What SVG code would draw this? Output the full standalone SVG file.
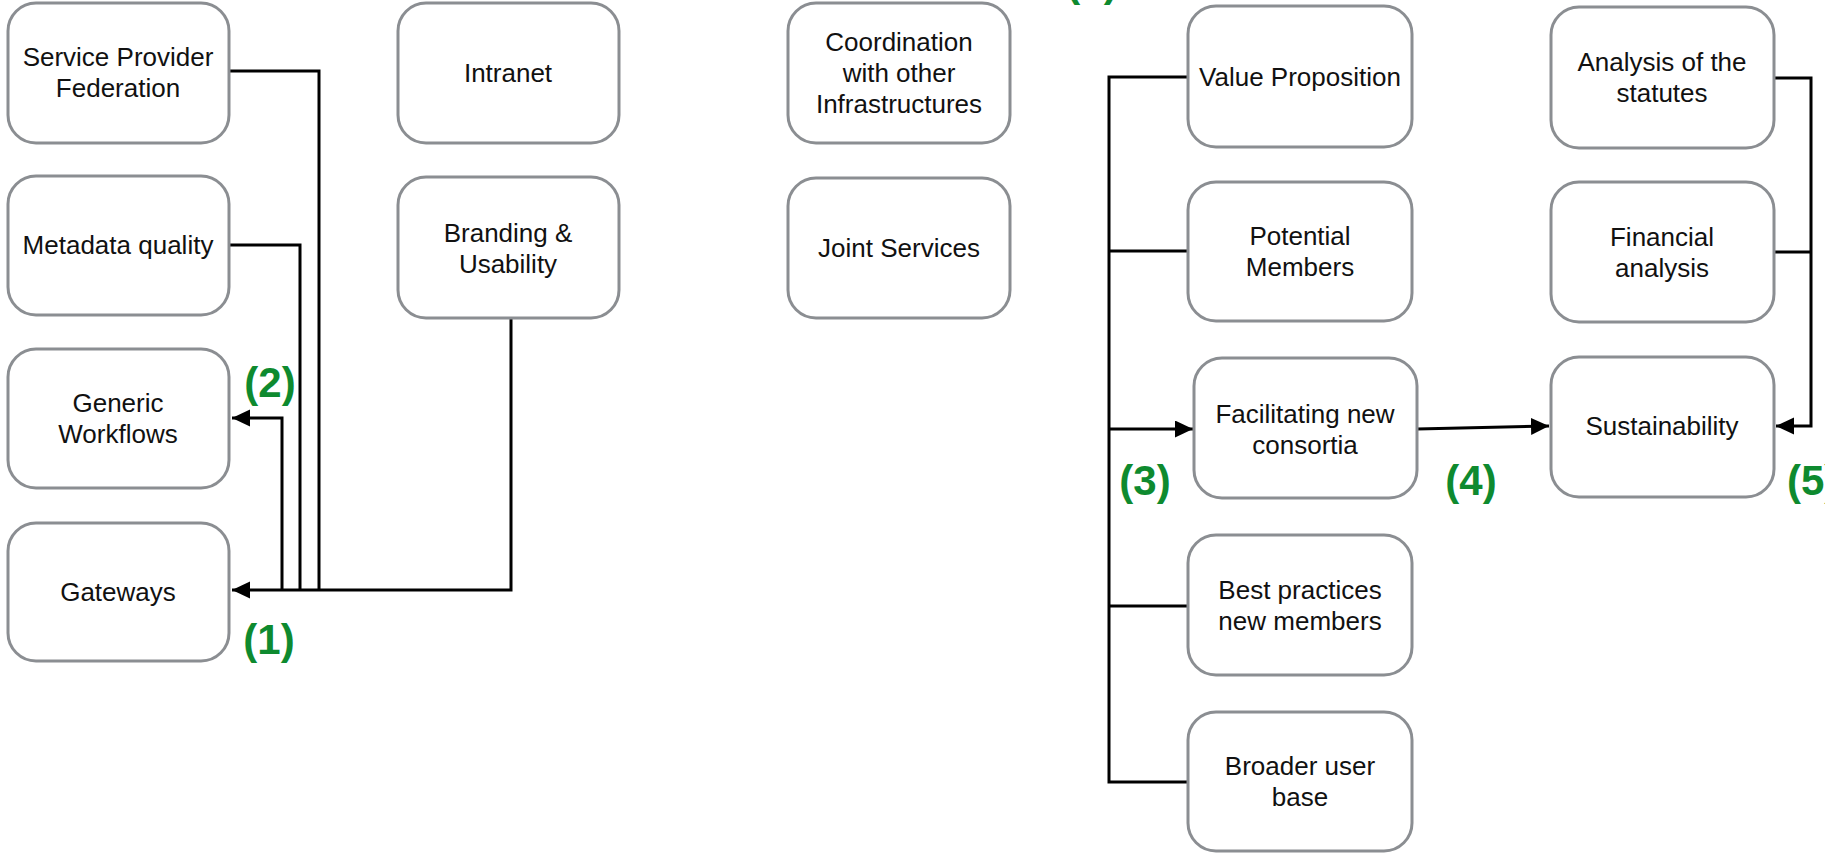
<svg xmlns="http://www.w3.org/2000/svg" width="1825" height="854" viewBox="0 0 1825 854">
<style>
.box{fill:#fff;stroke:#8b8e92;stroke-width:3}
.t{font-family:"Liberation Sans",Arial,sans-serif;font-size:26px;fill:#111;text-anchor:middle}
.c{fill:none;stroke:#000;stroke-width:3}
.g{font-family:"Liberation Sans",Arial,sans-serif;font-size:42px;font-weight:bold;fill:#0e8a2f;text-anchor:middle}
</style>
<defs>
<marker id="ah" markerUnits="userSpaceOnUse" markerWidth="19" markerHeight="18" refX="18" refY="8.5" orient="auto">
<path d="M0,0 L18,8.5 L0,17 z" fill="#000"/>
</marker>
</defs>
<rect width="1825" height="854" fill="#fff"/>
<g id="connectors">
<path class="c" d="M229,71 H319 V590"/>
<path class="c" d="M229,245 H300 V590"/>
<path class="c" d="M511,318 V590 H232" marker-end="url(#ah)"/>
<path class="c" d="M282,590 V418 H232" marker-end="url(#ah)"/>
<path class="c" d="M1188,77 H1109 V782 H1188"/>
<path class="c" d="M1109,251 H1188"/>
<path class="c" d="M1109,606 H1188"/>
<path class="c" d="M1109,429 H1193" marker-end="url(#ah)"/>
<path class="c" d="M1417,429 L1549,426" marker-end="url(#ah)"/>
<path class="c" d="M1774,78 H1811 V426 H1776" marker-end="url(#ah)"/>
<path class="c" d="M1774,252 H1811"/>
</g>
<g id="n-spf"><rect class="box" x="8" y="3" width="221" height="140" rx="28"/><text class="t" x="118" y="66">Service Provider</text><text class="t" x="118" y="97">Federation</text></g>
<g id="n-metadata"><rect class="box" x="8" y="176" width="221" height="139" rx="28"/><text class="t" x="118" y="254">Metadata quality</text></g>
<g id="n-generic"><rect class="box" x="8" y="349" width="221" height="139" rx="28"/><text class="t" x="118" y="412">Generic</text><text class="t" x="118" y="443">Workflows</text></g>
<g id="n-gateways"><rect class="box" x="8" y="523" width="221" height="138" rx="28"/><text class="t" x="118" y="601">Gateways</text></g>
<g id="n-intranet"><rect class="box" x="398" y="3" width="221" height="140" rx="28"/><text class="t" x="508" y="82">Intranet</text></g>
<g id="n-branding"><rect class="box" x="398" y="177" width="221" height="141" rx="28"/><text class="t" x="508" y="242">Branding &amp;</text><text class="t" x="508" y="273">Usability</text></g>
<g id="n-coord"><rect class="box" x="788" y="3" width="222" height="140" rx="28"/><text class="t" x="899" y="51">Coordination</text><text class="t" x="899" y="82">with other</text><text class="t" x="899" y="113">Infrastructures</text></g>
<g id="n-joint"><rect class="box" x="788" y="178" width="222" height="140" rx="28"/><text class="t" x="899" y="257">Joint Services</text></g>
<g id="n-value"><rect class="box" x="1188" y="6" width="224" height="141" rx="28"/><text class="t" x="1300" y="86">Value Proposition</text></g>
<g id="n-potential"><rect class="box" x="1188" y="182" width="224" height="139" rx="28"/><text class="t" x="1300" y="245">Potential</text><text class="t" x="1300" y="276">Members</text></g>
<g id="n-facilitating"><rect class="box" x="1194" y="358" width="223" height="140" rx="28"/><text class="t" x="1305" y="423">Facilitating new</text><text class="t" x="1305" y="454">consortia</text></g>
<g id="n-best"><rect class="box" x="1188" y="535" width="224" height="140" rx="28"/><text class="t" x="1300" y="599">Best practices</text><text class="t" x="1300" y="630">new members</text></g>
<g id="n-broader"><rect class="box" x="1188" y="712" width="224" height="139" rx="28"/><text class="t" x="1300" y="775">Broader user</text><text class="t" x="1300" y="806">base</text></g>
<g id="n-statutes"><rect class="box" x="1551" y="7" width="223" height="141" rx="28"/><text class="t" x="1662" y="71">Analysis of the</text><text class="t" x="1662" y="102">statutes</text></g>
<g id="n-financial"><rect class="box" x="1551" y="182" width="223" height="140" rx="28"/><text class="t" x="1662" y="246">Financial</text><text class="t" x="1662" y="277">analysis</text></g>
<g id="n-sustain"><rect class="box" x="1551" y="357" width="223" height="140" rx="28"/><text class="t" x="1662" y="435">Sustainability</text></g>
<g id="labels">
<text class="g" x="269" y="654">(1)</text>
<text class="g" x="270" y="397">(2)</text>
<text class="g" x="1145" y="495">(3)</text>
<text class="g" x="1471" y="495">(4)</text>
<text class="g" x="1787" y="495" style="text-anchor:start">(5)</text>
<text class="g" x="1092" y="-4">(6)</text>
</g>
</svg>
